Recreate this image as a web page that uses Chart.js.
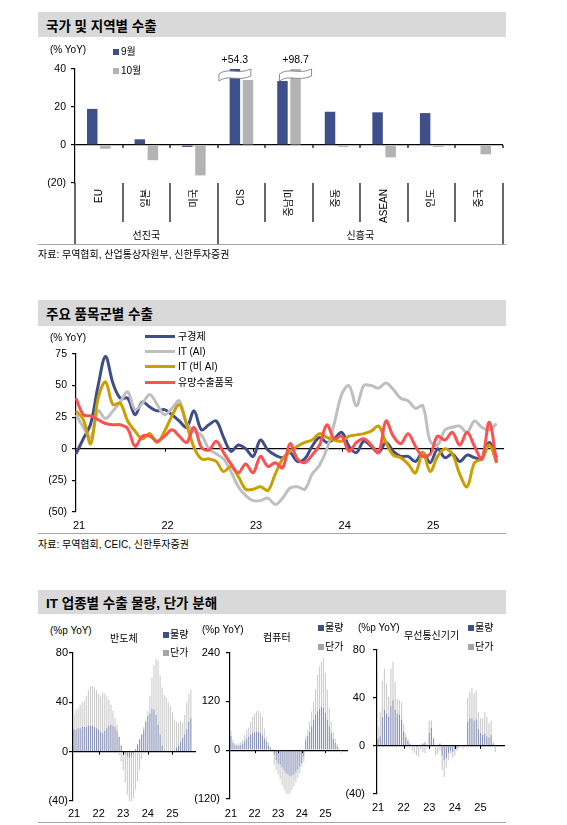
<!DOCTYPE html>
<html lang="ko">
<head>
<meta charset="utf-8">
<script src="https://cdn.jsdelivr.net/npm/chart.js@4.4.1/dist/chart.umd.min.js"></script>
<style>
  body { margin: 0; width: 567px; height: 825px; position: relative; background: #fff; overflow: hidden;
         font-family: Arial, "Liberation Sans", "Noto Sans CJK KR", sans-serif; color: #000; }
  canvas { position: absolute; }
  .bar { position: absolute; left: 38px; width: 468px; background: #d9d9d9; }
  .bar span { position: absolute; left: 8px; top: 50%; transform: translateY(-50%); font-size: 13.5px; font-weight: bold; white-space: nowrap; }
  .rule { position: absolute; left: 38px; width: 468px; border-top: 1.5px solid #a6a6a6; }
  .t { position: absolute; font-size: 10px; line-height: 12px; transform: translateY(-50%); white-space: nowrap; }
  .sq { position: absolute; width: 6px; height: 6px; }
  .ln { position: absolute; width: 30px; height: 3px; }
</style>
</head>
<body>

<div class="bar" style="top:12px;height:25px"><span>국가 및 지역별 수출</span></div>
<canvas id="c1" width="567" height="210" style="left:0;top:40px"></canvas>
<div class="t" style="left:50px;top:50px">(% YoY)</div>
<div class="sq" style="left:113px;top:49px;background:#3f4f8a"></div>
<div class="t" style="left:121px;top:52px">9월</div>
<div class="sq" style="left:113px;top:68px;background:#b3b3b3"></div>
<div class="t" style="left:121px;top:71px">10월</div>
<div class="rule" style="top:244px"></div>
<div class="t" style="left:38px;top:255px">자료: 무역협회, 산업통상자원부, 신한투자증권</div>

<div class="bar" style="top:300px;height:26px"><span>주요 품목군별 수출</span></div>
<canvas id="c2" width="567" height="200" style="left:0;top:330px"></canvas>
<div class="t" style="left:50px;top:338px">(% YoY)</div>
<div class="ln" style="left:145px;top:335px;background:#3f4e8a"></div>
<div class="t" style="left:178px;top:337px">구경제</div>
<div class="ln" style="left:145px;top:350px;background:#bfbfbf"></div>
<div class="t" style="left:178px;top:352px">IT (AI)</div>
<div class="ln" style="left:145px;top:365px;background:#cc9f00"></div>
<div class="t" style="left:178px;top:367px">IT (비 AI)</div>
<div class="ln" style="left:145px;top:381px;background:#ff5050"></div>
<div class="t" style="left:178px;top:383px">유망수출품목</div>
<div class="rule" style="top:533px"></div>
<div class="t" style="left:38px;top:545px">자료: 무역협회, CEIC, 신한투자증권</div>

<div class="bar" style="top:590px;height:24px"><span>IT 업종별 수출 물량, 단가 분해</span></div>
<canvas id="c3" width="165" height="185" style="left:38px;top:640px"></canvas>
<canvas id="c4" width="165" height="185" style="left:195px;top:640px"></canvas>
<canvas id="c5" width="170" height="180" style="left:345px;top:635px"></canvas>

<div class="t" style="left:50px;top:631px">(%p YoY)</div>
<div class="t" style="left:110px;top:639px">반도체</div>
<div class="sq" style="left:163px;top:632px;background:#3f4f8a"></div>
<div class="t" style="left:170px;top:635px">물량</div>
<div class="sq" style="left:163px;top:650px;background:#a6a6a6"></div>
<div class="t" style="left:170px;top:653px">단가</div>

<div class="t" style="left:202px;top:630px">(%p YoY)</div>
<div class="t" style="left:263px;top:638px">컴퓨터</div>
<div class="sq" style="left:318px;top:625px;background:#3f4f8a"></div>
<div class="t" style="left:325px;top:628px">물량</div>
<div class="sq" style="left:318px;top:644px;background:#a6a6a6"></div>
<div class="t" style="left:325px;top:647px">단가</div>

<div class="t" style="left:358px;top:628px">(%p YoY)</div>
<div class="t" style="left:404px;top:636px">무선통신기기</div>
<div class="sq" style="left:468px;top:625px;background:#3f4f8a"></div>
<div class="t" style="left:475px;top:628px">물량</div>
<div class="sq" style="left:468px;top:644px;background:#a6a6a6"></div>
<div class="t" style="left:475px;top:647px">단가</div>

<div class="rule" style="top:822px"></div>

<script>
// ---- data ----
const regions = ['EU', '일본', '미국', 'CIS', '중남미', '중동', 'ASEAN', '인도', '중국'];
const groupNames = ['선진국', '신흥국'];
const groupSizes = [3, 6];
const sepExports = [19, 3, -1, 54.3, 33.7, 17.5, 17.2, 16.8, 0.3];
const octExports = [-2, -8, -16, 34.2, 98.7, -1, -6.5, -1, -4.9];

const yearLabels = ['21', '22', '23', '24', '25'];
const oldEcon = [-4, 8, 20, 50, 73, 52, 40, 40, 27, 37, 33, 30, 31, 27, 22, 17, 30, 15, 19, 22, 9, -2, 3, 0, -6, 7, -1, -5, -7, -3,
  -10, -8, 2, 9, 5, 8, 13, 2, -3, 6, 2, -3, 5, -2, -6, -6, -10, -3, -11, 0, -7, -4, -10, -5, -7, -8, 5, -7];
const itAi = [27, 17, 9, 30, 24, 30, 37, 45, 31, 36, 43, 35, 27, 32, 38, 20, 14, 11, 0, -4, -8, -18, -30, -37, -41, -41, -39, -44, -39, -31,
  -30, -32, -20, -13, 0, 20, 43, 50, 34, 50, 50, 48, 52, 47, 40, 38, 32, 34, 6, 3, 15, 17, 18, 13, 22, 17, 15, 20];
const itNonAi = [30, 23, 4, 40, 53, 35, 36, 22, 14, 8, 12, 5, 14, 26, 35, 19, 1, -8, -8, -10, -18, -14, -22, -32, -32, -30, -33, -20, -8, -2,
  2, 5, 7, 12, 9, 7, 6, 10, 11, 12, 14, 18, 5, -5, -7, -12, -19, -3, -18, -6, 0, -4, -20, -30, -11, -8, 3, -11];
const promising = [40, 27, 26, 23, 20, 19, 19, 16, 2, 10, 10, 6, 10, 15, 10, 5, 17, 1, -1, 6, -3, -12, -19, -12, -19, -6, -14, -11, -15, 4,
  -8, -11, -5, 3, 19, 8, 10, -2, 5, 8, 3, -3, 22, 10, 4, 12, 2, -6, -4, 10, 7, 13, 3, 13, 2, -8, 21, -11];

const semiVol = [18, 18, 19, 19, 20, 20, 20, 21, 21, 21, 20, 19, 18, 16, 15, 17, 19, 21, 22, 21, 20, 17,
  12, 5, 0, -2, -4, -5, -4, -2, 2, 6, 10, 14, 18,
  24, 29, 31, 35, 34, 30, 22, 14, 5, 1, 0, 0, 0, 0, 0, 3, 5, 8, 11, 14, 18, 24, 27];
const semiPrice = [12, 16, 16, 19, 20, 21, 25, 29, 32, 32, 32, 31, 29, 29, 33, 30, 26, 21, 16, 12, 7, 5,
  -3, -8, -15, -23, -31, -36, -37, -36, -31, -24, -15, -6, 2,
  2, 4, 14, 25, 36, 45, 52, 48, 47, 45, 44, 40, 37, 32, 26, 21, 18, 17, 12, 16, 22, 23, 23];
const compVol = [35, 18, 12, 11, 11, 12, 16, 22, 28, 33, 38, 42, 45, 46, 45, 42, 37, 28, 20, 12, 6, 1,
  -11, -25, -32, -36, -42, -50, -56, -60, -64, -63, -60, -55, -48, -40, -32, -15,
  25, 35, 45, 58, 74, 88, 96, 102, 106, 104, 92, 75, 58, 42, 28, 18, 10, 3, 0, 0];
const compPrice = [12, 8, 5, 5, 6, 8, 10, 15, 22, 22, 32, 40, 45, 50, 52, 50, 45, 25, 12, 8, 2, 0,
  -25, -23, -28, -36, -44, -47, -50, -49, -41, -35, -28, -23, -20, -16, -8, -13,
  8, 15, 25, 37, 44, 62, 89, 103, 112, 124, 98, 75, 47, 28, 17, 10, 5, 2, -6, 0];
const wlVol = [6, 8, 24, 30, 27, 24, 33, 38, 30, 27, 26, 22, 12, 7, 4, 2, 0, 0, -1, 0, 0, 2, 3, 1, 11, 15, 6, 0, 0, 2,
  -8, -12, -10, -6, -4, -5, -3, -2, 0, 0, 0, 0, 20, 23, 23, 21, 22, 14, 11, 9, 10, 8, 7, 9, 2, 0, 0, 0];
const wlPrice = [10, 20, 30, 34, 25, 17, 31, 32, 23, 12, 12, 14, 6, 3, 2, 0, -4, -6, -7, -9, -3, -5, -6, -2, 10, 6, 1, -8, -7, -4,
  -12, -14, -8, -6, -3, -5, -5, -2, -2, -1, -2, -1, 20, 22, 25, 23, 24, 14, 12, 14, 18, 16, 12, 12, 1, -5, 0, 0];

// month categories (line chart runs to Nov 25, bar panels to Dec 25)
function monthLabels(n) {
  const out = [];
  for (let i = 0; i < n; i++) out.push((2021 + Math.floor(i / 12)) + '-' + String(i % 12 + 1).padStart(2, '0'));
  return out;
}

const FONT = 'Arial, "Liberation Sans", "Noto Sans CJK KR", sans-serif';
const NAVY = '#3f4f8a', GREY = '#b3b3b3';
Chart.defaults.font.family = FONT;
Chart.defaults.font.size = 10.5;
Chart.defaults.color = '#000';
Chart.defaults.animation = false;
Chart.defaults.plugins.legend.display = false;
Chart.defaults.plugins.tooltip.enabled = false;

const paren = v => v < 0 ? '(' + Math.abs(v) + ')' : String(v);

function yAxis(min, max, step, width, pad, size) {
  return {
    min, max,
    ticks: { stepSize: step, callback: paren, padding: pad, font: { size: size || 10.5 } },
    grid: {
      color: c => c.tick && c.tick.value === 0 ? '#000' : 'rgba(0,0,0,0)',
      tickColor: '#000', tickLength: 4, lineWidth: 1.2
    },
    border: { display: true, color: '#000', width: 1.2 },
    afterFit: s => { s.width = width; }
  };
}

function yearAxis(height, pad, labelOffset, offset) {
  return {
    offset,
    grid: { display: false, drawTicks: false },
    border: { display: false },
    ticks: {
      autoSkip: false, maxRotation: 0, minRotation: 0, padding: pad, labelOffset,
      font: { size: 11 },
      callback: (v, i) => i % 12 === 0 ? yearLabels[i / 12] : ''
    },
    afterFit: s => { s.height = height; }
  };
}

// small ticks on the zero line at each January
const zeroTicks = {
  id: 'zeroTicks',
  afterDatasetsDraw(chart) {
    const { ctx, scales: { x, y } } = chart;
    const y0 = y.getPixelForValue(0);
    ctx.save();
    ctx.strokeStyle = '#000';
    ctx.lineWidth = 1;
    for (let i = 12; i < x.ticks.length; i += 12) {
      const px = Math.round(x.getPixelForTick(i)) + 0.5;
      ctx.beginPath(); ctx.moveTo(px, y0); ctx.lineTo(px, y0 + 3); ctx.stroke();
    }
    ctx.restore();
  }
};

// category frame, group labels and axis breaks for the region chart
const regionFrame = {
  id: 'regionFrame',
  afterDatasetsDraw(chart) {
    const { ctx, chartArea: a, scales: { y } } = chart;
    const n = regions.length, w = (a.right - a.left) / n, y0 = y.getPixelForValue(0);
    ctx.save();
    ctx.strokeStyle = '#000';
    ctx.lineWidth = 1.2;
    for (let k = 0; k <= n; k++) {
      const bx = Math.round(a.left + k * w);
      const long = k === 0 || k === groupSizes[0] || k === n;
      ctx.beginPath(); ctx.moveTo(bx, a.bottom); ctx.lineTo(bx, a.bottom + (long ? 62 : 39)); ctx.stroke();
      if (k > 0) { ctx.beginPath(); ctx.moveTo(bx, y0); ctx.lineTo(bx, y0 + 3); ctx.stroke(); }
    }
    ctx.fillStyle = '#000';
    ctx.font = '10px ' + FONT;
    ctx.textAlign = 'center';
    ctx.textBaseline = 'middle';
    let start = 0;
    groupNames.forEach((g, gi) => {
      ctx.fillText(g, a.left + (start + groupSizes[gi] / 2) * w, a.bottom + 53);
      start += groupSizes[gi];
    });

    chart.data.datasets.forEach((ds, di) => {
      const meta = chart.getDatasetMeta(di);
      ds.data.forEach((v, i) => {
        if (v <= y.max) return;
        const cx = meta.data[i].x, t = a.top;
        ctx.beginPath();
        ctx.moveTo(cx - 16, t + 5);
        ctx.bezierCurveTo(cx - 7, t - 2, cx + 4, t + 6, cx + 16, t);
        ctx.lineTo(cx + 16, t + 7);
        ctx.bezierCurveTo(cx + 4, t + 13, cx - 7, t + 5, cx - 16, t + 12);
        ctx.closePath();
        ctx.fillStyle = '#fff';
        ctx.fill();
        ctx.strokeStyle = '#808080';
        ctx.lineWidth = 0.9;
        ctx.stroke();
        ctx.fillStyle = '#000';
        ctx.font = '10.5px ' + FONT;
        ctx.fillText('+' + v, cx, a.top - 9);
      });
    });
    ctx.restore();
  }
};

new Chart(document.getElementById('c1'), {
  type: 'bar',
  data: {
    labels: regions,
    datasets: [
      { label: '9월', data: sepExports, backgroundColor: NAVY, clip: 0 },
      { label: '10월', data: octExports, backgroundColor: GREY, clip: 0 }
    ]
  },
  options: {
    responsive: false,
    layout: { padding: { top: 29, right: 64, left: 0, bottom: 0 } },
    datasets: { bar: { categoryPercentage: 0.55, barPercentage: 0.8 } },
    scales: {
      x: {
        grid: { display: false, drawTicks: false },
        border: { display: false },
        ticks: { autoSkip: false, minRotation: 90, maxRotation: 90, padding: 6, font: { size: 10 } },
        afterFit: s => { s.height = 67; }
      },
      y: yAxis(-20, 40, 20, 75, 5)
    }
  },
  plugins: [regionFrame]
});

const line = (label, data, color, order) => ({
  label, data, borderColor: color, backgroundColor: color, borderWidth: 3,
  tension: 0.35, pointRadius: 0, order
});

new Chart(document.getElementById('c2'), {
  type: 'line',
  data: {
    labels: monthLabels(59),
    datasets: [
      line('구경제', oldEcon, '#3f4e8a', 4),
      line('IT (AI)', itAi, '#bfbfbf', 3),
      line('IT (비 AI)', itNonAi, '#cc9f00', 2),
      line('유망수출품목', promising, '#ff5050', 1)
    ]
  },
  options: {
    responsive: false,
    layout: { padding: { top: 24, right: 63, left: 0, bottom: 0 } },
    scales: {
      x: yearAxis(18, 7, 3, false),
      y: yAxis(-50, 75, 25, 76, 5)
    }
  },
  plugins: [zeroTicks]
});

function splitChart(id, vol, price, ymin, ymax, step, pad, yw, xh, xpad, ypad) {
  new Chart(document.getElementById(id), {
    type: 'bar',
    data: {
      labels: monthLabels(60),
      datasets: [
        { label: '물량', data: vol, backgroundColor: 'rgba(63,79,138,0.62)' },
        { label: '단가', data: price, backgroundColor: '#cdcdcd' }
      ]
    },
    options: {
      responsive: false,
      layout: { padding: pad },
      datasets: { bar: { categoryPercentage: 1, barPercentage: 0.55 } },
      scales: {
        x: Object.assign(yearAxis(xh, xpad, 0, true), { stacked: true }),
        y: Object.assign(yAxis(ymin, ymax, step, yw, ypad, 11), { stacked: true })
      }
    },
    plugins: [zeroTicks]
  });
}

splitChart('c3', semiVol, semiPrice, -40, 80, 40, { top: 13, right: 7, left: 0, bottom: 0 }, 35, 24, 6, 1);
splitChart('c4', compVol, compPrice, -120, 240, 120, { top: 12, right: 12, left: 0, bottom: 0 }, 35, 26, 8, 6);
splitChart('c5', wlVol, wlPrice, -40, 80, 40, { top: 12, right: 10, left: 0, bottom: 0 }, 32, 21, 7, 8);
</script>
</body>
</html>
